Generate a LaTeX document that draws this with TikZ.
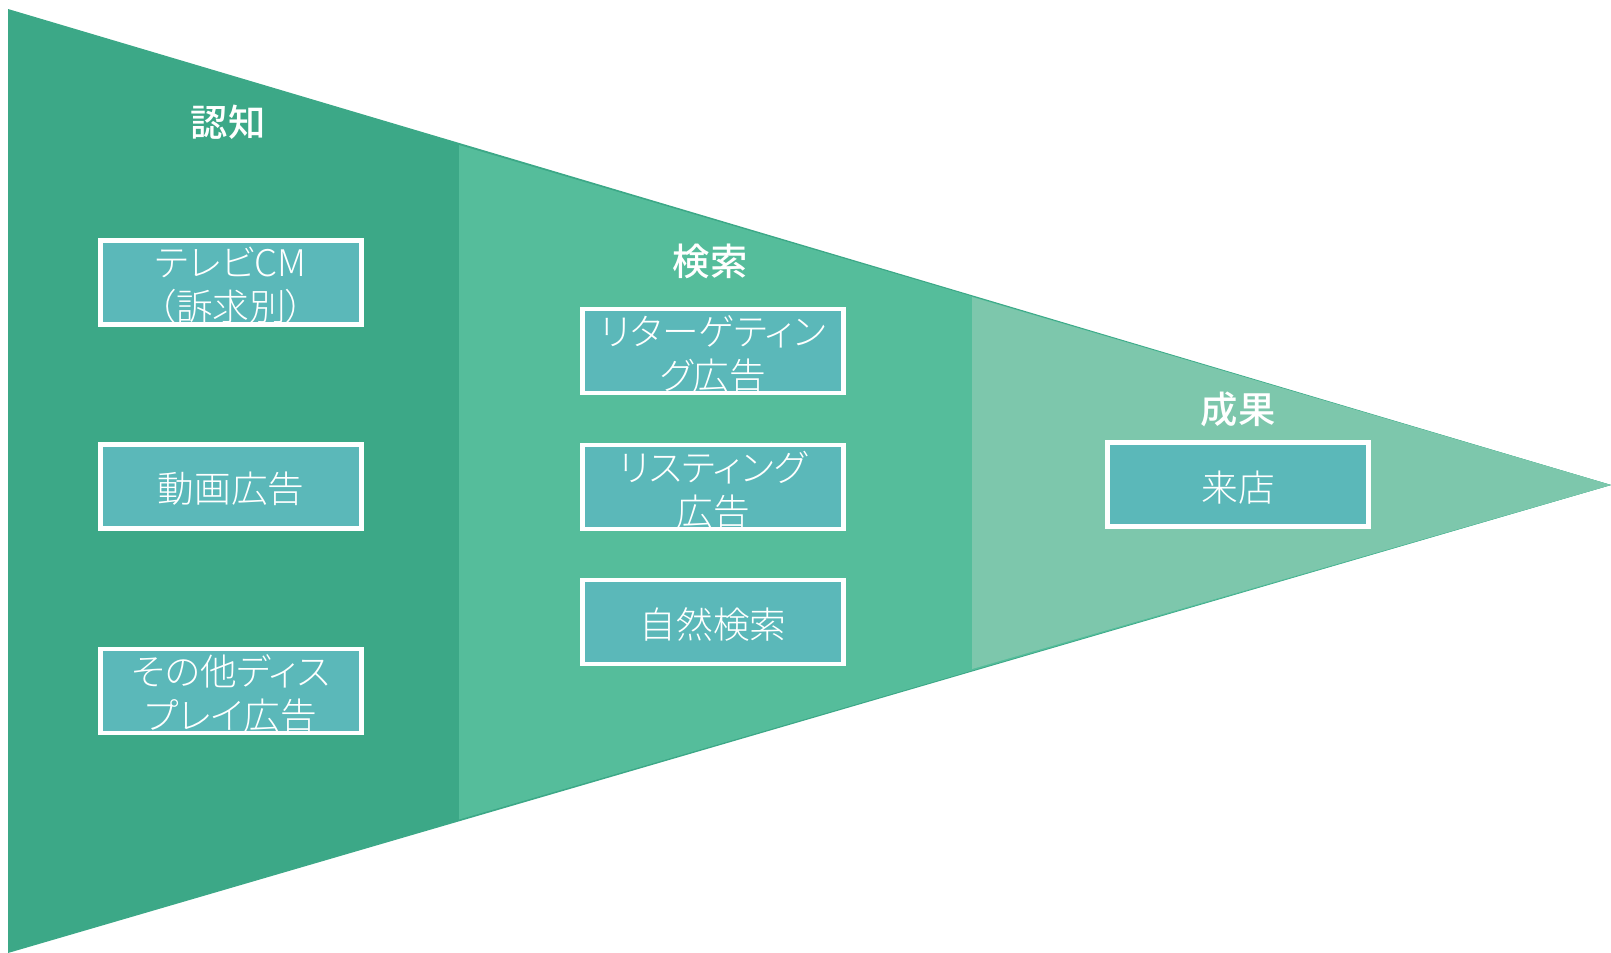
\documentclass[tikz,border=0pt]{standalone}
\usepackage{fontspec}
\setmainfont{Noto Sans CJK JP}[RawFeature=+palt]
\newfontfamily\lightjp{Noto Sans CJK JP Light}[RawFeature=+palt]
\newfontfamily\mediumjp{Noto Sans CJK JP Medium}[RawFeature=+palt]
\definecolor{cdark}{HTML}{3CA887}
\definecolor{cmid}{HTML}{55BD9B}
\definecolor{clight}{HTML}{7DC7AC}
\definecolor{cbox}{HTML}{5BB8B9}
\tikzset{
  box/.style={draw=white, line width=3.4pt, fill=cbox, minimum width=196pt, minimum height=63.2pt, inner sep=0pt},
  boxtext/.style={text=white, align=center, inner sep=0pt, yshift=-2pt, font=\lightjp\fontsize{27.5}{33}\selectfont},
  title/.style={text=white, inner sep=0pt, font=\mediumjp\fontsize{28}{32}\selectfont}
}
\begin{document}
\begin{tikzpicture}[x=0.75pt,y=-0.75pt]
\useasboundingbox (0,0) rectangle (1611,953);
% funnel sections
\fill[cdark] (8,9) -- (1611,485) -- (8,953) -- cycle;
\fill[cmid] (459,145) -- (1611,485) -- (459,819.5) -- cycle;
\fill[clight] (972,297) -- (1611,485) -- (972,669) -- cycle;
% titles
\node[title] (t1) at (228,122) {認知};
\node[title] (t2) at (710,261) {検索};
\node[title] (t3) at (1238,409) {成果};
% left column
\node[box, path picture={\node[boxtext] (x1) at (path picture bounding box.center) {テレビCM\\（訴求別）};}] (b1) at (231,282.5) {};
\node[box, path picture={\node[boxtext] (x2) at (path picture bounding box.center) {動画広告};}] (b2) at (231,486.5) {};
\node[box, path picture={\node[boxtext] (x3) at (path picture bounding box.center) {その他ディス\\プレイ広告};}] (b3) at (231,691) {};
% middle column
\node[box, path picture={\node[boxtext] (x4) at (path picture bounding box.center) {リターゲティン\\グ広告};}] (m1) at (713,351) {};
\node[box, path picture={\node[boxtext] (x5) at (path picture bounding box.center) {リスティング\\広告};}] (m2) at (713,487) {};
\node[box, path picture={\node[boxtext] (x6) at (path picture bounding box.center) {自然検索};}] (m3) at (713,622) {};
% right column
\node[box, path picture={\node[boxtext] (x7) at (path picture bounding box.center) {来店};}] (r1) at (1238,484.5) {};
\end{tikzpicture}
\end{document}
